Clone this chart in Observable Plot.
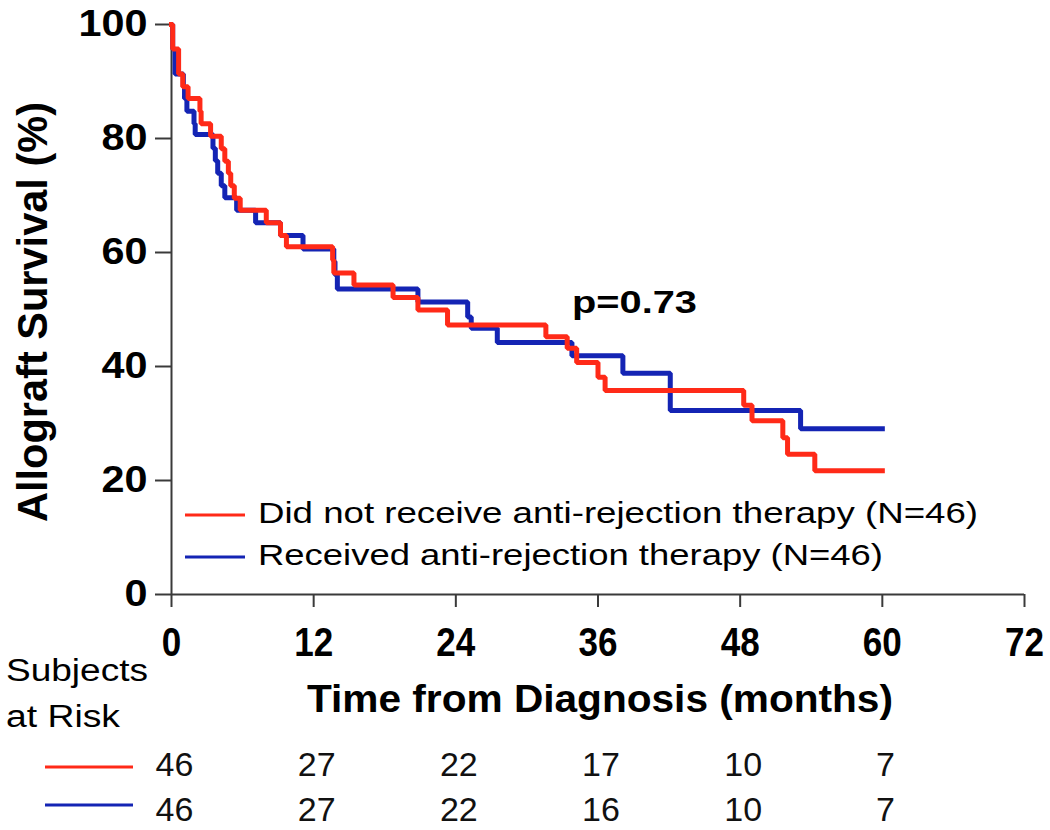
<!DOCTYPE html>
<html>
<head>
<meta charset="utf-8">
<script src="https://cdn.jsdelivr.net/npm/d3@7"></script>
<script src="https://cdn.jsdelivr.net/npm/@observablehq/plot@0.6"></script>
<style>
  html, body { margin: 0; padding: 0; background: #fff; }
  #chart svg { display: block; }
</style>
</head>
<body>
<div id="chart"></div>
<script>
// ---------------- data ----------------
const seriesNames = [
  "Did not receive anti-rejection therapy (N=46)",
  "Received anti-rejection therapy (N=46)"
];
const seriesColors = ["#ff2a18", "#1424b4"];

// Kaplan-Meier steps, group: did not receive anti-rejection therapy (red)
const redTime = [0, 0.1, 0.6, 0.95, 1.4, 2.4, 2.5, 3.3, 4.2, 4.5, 4.8, 5.0, 5.3, 5.8, 8.0, 9.2, 9.7, 13.6, 13.7, 15.4, 18.7, 20.8, 23.3, 31.6, 33.4, 34.2, 36.0, 36.6, 48.3, 49.0, 51.6, 52.0, 54.3, 60];
const redSurv = [100, 95.7, 91.3, 89.1, 87.0, 84.8, 82.6, 80.4, 78.2, 76.0, 73.9, 71.7, 69.5, 67.4, 65.2, 63.0, 61.0, 58.7, 56.4, 54.3, 52.1, 49.9, 47.3, 45.2, 43.2, 40.7, 38.1, 35.8, 33.2, 30.5, 27.5, 24.6, 21.7, 21.7];

// Kaplan-Meier steps, group: received anti-rejection therapy (blue)
const blueTime = [0, 0.1, 0.3, 1.0, 1.1, 1.3, 1.9, 2.0, 3.5, 3.7, 3.9, 4.2, 4.5, 5.5, 7.1, 9.2, 11.1, 13.7, 13.8, 14.0, 20.8, 25.0, 25.3, 27.5, 33.8, 38.1, 42.1, 53.1, 60];
const blueSurv = [100, 95.7, 91.3, 89.1, 87.0, 84.8, 82.6, 80.7, 78.3, 76.1, 73.9, 71.7, 69.6, 67.4, 65.2, 63.0, 60.6, 58.4, 56.1, 53.6, 51.3, 48.7, 46.7, 44.2, 41.9, 38.8, 32.3, 29.1, 29.1];

const xTicks = [0, 12, 24, 36, 48, 60, 72];
const yTicks = [0, 20, 40, 60, 80, 100];

const riskTimes = [0, 12, 24, 36, 48, 60];
const riskRed = [46, 27, 22, 17, 10, 7];
const riskBlue = [46, 27, 22, 16, 10, 7];

const riskHeader = ["Subjects", "at Risk"];
const xTitle = "Time from Diagnosis (months)";
const yTitle = "Allograft Survival (%)";
const pLabel = "p=0.73";

// ---------------- build ----------------
const FONT = "'Liberation Sans', Arial, Helvetica, sans-serif";
const AXIS = "#3a3a3a";

const redRows = redTime.map((t, i) => ({t, s: redSurv[i]}));
const blueRows = blueTime.map((t, i) => ({t, s: blueSurv[i]}));
const riskRedRows = riskTimes.map((t, i) => ({t, n: riskRed[i]}));
const riskBlueRows = riskTimes.map((t, i) => ({t, n: riskBlue[i]}));

function stretched(g, txt, attrs, len) {
  const el = g.append("text").text(txt).attr("text-anchor", "start");
  for (const k in attrs) el.attr(k, attrs[k]);
  if (len) el.attr("textLength", len).attr("lengthAdjust", "spacingAndGlyphs");
  return el;
}

// annotations: axis titles, legend, p-value, at-risk header
function annotations(index, scales, values, dim) {
  const L = dim.marginLeft;
  const B = dim.height - dim.marginBottom;
  const T = dim.marginTop;
  const g = d3.create("svg:g").attr("font-family", FONT).attr("fill", "#000");

  // y title (rotated)
  stretched(g, yTitle, {
    transform: `translate(${L - 124},${(T + B) / 2 + 3}) rotate(-90)`,
    "text-anchor": "middle", "font-size": 43, "font-weight": "bold"
  }, 420);

  // x title
  stretched(g, xTitle, {
    x: 600, y: B + 118, "text-anchor": "middle", "font-size": 38, "font-weight": "bold"
  }, 586);

  // p-value
  stretched(g, pLabel, {
    x: L + 401, y: T + 289, "font-size": 32, "font-weight": "bold"
  }, 125);

  // legend inside plot
  const legY = [B - 79, B - 37];
  const legLen = [720, 625];
  seriesNames.forEach((name, i) => {
    g.append("line")
      .attr("x1", L + 14).attr("x2", L + 74)
      .attr("y1", legY[i]).attr("y2", legY[i])
      .attr("stroke", seriesColors[i]).attr("stroke-width", 3);
    stretched(g, name, {x: L + 87, y: legY[i] + 8, "font-size": 30}, legLen[i]);
  });

  // at-risk header
  stretched(g, riskHeader[0], {x: 6, y: B + 87, "font-size": 31}, 142);
  stretched(g, riskHeader[1], {x: 6, y: B + 133, "font-size": 31}, 114);

  // at-risk row legend lines
  const rowY = [B + 173, B + 211];
  seriesColors.forEach((c, i) => {
    g.append("line")
      .attr("x1", 45).attr("x2", 133)
      .attr("y1", rowY[i]).attr("y2", rowY[i])
      .attr("stroke", c).attr("stroke-width", 3);
  });
  return g.node();
}

const chart = Plot.plot({
  width: 1050,
  height: 830,
  marginLeft: 171,
  marginRight: 26,
  marginTop: 24,
  marginBottom: 236,
  style: {fontFamily: FONT, background: "#fff", color: "#000", overflow: "visible"},
  x: {domain: [0, 72]},
  y: {domain: [0, 100]},
  marks: [
    Plot.axisY({
      ticks: yTicks, tickSize: 16, tickPadding: 8, stroke: AXIS, strokeWidth: 2,
      fontSize: 36, fontWeight: "bold", label: null, fill: "#000"
    }),
    Plot.axisX({
      ticks: xTicks, tickSize: 13, tickPadding: 20, stroke: AXIS, strokeWidth: 2,
      fontSize: 40, fontWeight: "bold", label: null, fill: "#000"
    }),
    Plot.ruleX([0], {stroke: AXIS, strokeWidth: 2}),
    Plot.ruleY([0], {stroke: AXIS, strokeWidth: 2}),
    Plot.line(blueRows, {
      x: "t", y: "s", curve: "step-after", stroke: seriesColors[1],
      strokeWidth: 5, strokeLinejoin: "miter", strokeLinecap: "square"
    }),
    Plot.line(redRows, {
      x: "t", y: "s", curve: "step-after", stroke: seriesColors[0],
      strokeWidth: 5, strokeLinejoin: "miter", strokeLinecap: "square"
    }),
    Plot.text(riskRedRows, {
      x: "t", text: "n", frameAnchor: "bottom", lineAnchor: "bottom",
      dy: 181, dx: 3, fontSize: 34, fill: "#111"
    }),
    Plot.text(riskBlueRows, {
      x: "t", text: "n", frameAnchor: "bottom", lineAnchor: "bottom",
      dy: 226, dx: 3, fontSize: 34, fill: "#111"
    }),
    annotations
  ]
});

// tick label proportions (condensed x labels, wide y labels)
d3.select(chart).selectAll('g[aria-label="x-axis tick label"] text').each(function () {
  this.setAttribute("textLength", this.textContent.length * 19.5);
  this.setAttribute("lengthAdjust", "spacingAndGlyphs");
});
d3.select(chart).selectAll('g[aria-label="y-axis tick label"] text').each(function () {
  this.setAttribute("textLength", this.textContent.length * 23);
  this.setAttribute("lengthAdjust", "spacingAndGlyphs");
});

document.getElementById("chart").appendChild(chart);
</script>
</body>
</html>
